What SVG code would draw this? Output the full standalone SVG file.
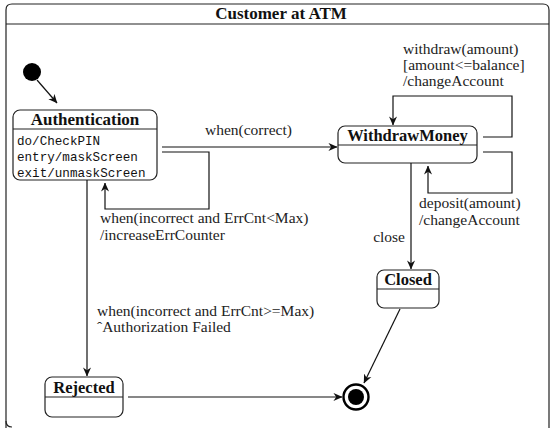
<svg xmlns="http://www.w3.org/2000/svg" width="550" height="428" viewBox="0 0 550 428">
<defs>
<style>
.box{fill:#fff;stroke:#222;stroke-width:1.2}
.sep{stroke:#222;stroke-width:1.2}
.ttl{font-family:'Liberation Serif','Times New Roman','DejaVu Serif',serif;font-weight:bold;font-size:16.5px;fill:#111;text-anchor:middle}
.mono{font-family:'Liberation Mono','DejaVu Sans Mono',monospace;font-size:12.6px;fill:#111}
.lbl{font-family:'Liberation Serif','Times New Roman','DejaVu Serif',serif;font-size:15.5px;fill:#222}
.edge{fill:none;stroke:#111;stroke-width:1.2;marker-end:url(#arr)}
</style>
<marker id="arr" viewBox="0 0 10 10" refX="9.5" refY="5" markerWidth="9" markerHeight="9" markerUnits="userSpaceOnUse" orient="auto">
<path d="M0,0.5 L10,5 L0,9.5 L3,5 Z" fill="#111"/>
</marker>
</defs>
<rect width="550" height="428" fill="#fff"/>
<g id="frame">
<path d="M6,434 L6,10 Q6,4 12,4 L543,4 Q549,4 549,10 L549,434" fill="none" stroke="#222" stroke-width="1.2"/>
<path d="M6,421 Q6,427 12,427" fill="none" stroke="#222" stroke-width="1.2"/>
<line x1="6" y1="24" x2="549" y2="24" class="sep"/>
<text x="281" y="18.5" class="ttl" style="font-size:17px">Customer at ATM</text>
</g>
<g id="initial">
<circle cx="32" cy="72" r="9" fill="#000"/>
</g>
<g id="authentication">
<rect x="13" y="110" width="144" height="70" rx="7" class="box"/>
<line x1="13" y1="129" x2="157" y2="129" class="sep"/>
<text x="85" y="125" class="ttl" style="font-size:17px">Authentication</text>
<text x="17" y="145" class="mono">do/CheckPIN</text>
<text x="17" y="161" class="mono">entry/maskScreen</text>
<text x="17" y="177" class="mono">exit/unmaskScreen</text>
</g>
<g id="withdrawmoney">
<rect x="338" y="126" width="139" height="37" rx="7" class="box"/>
<line x1="338" y1="145" x2="477" y2="145" class="sep"/>
<text x="407.5" y="141" class="ttl">WithdrawMoney</text>
</g>
<g id="closed">
<rect x="377" y="270" width="62" height="38" rx="7" class="box"/>
<line x1="377" y1="289" x2="439" y2="289" class="sep"/>
<text x="408" y="285" class="ttl">Closed</text>
</g>
<g id="rejected">
<rect x="45" y="377" width="78" height="40" rx="7" class="box"/>
<line x1="45" y1="397" x2="123" y2="397" class="sep"/>
<text x="84" y="393" class="ttl">Rejected</text>
</g>
<g id="final">
<circle cx="356" cy="397" r="12.5" fill="#fff" stroke="#000" stroke-width="2.4"/>
<circle cx="356" cy="397" r="8" fill="#000"/>
</g>
<g id="connectors">
<line x1="37" y1="80" x2="57" y2="103" class="edge"/>
<line x1="162" y1="147" x2="337" y2="147" class="edge"/>
<text x="205" y="135" class="lbl">when(correct)</text>
<polyline points="162,152 209,152 209,209 105,209 105,183" class="edge"/>
<text x="100" y="223" class="lbl">when(incorrect and ErrCnt&lt;Max)</text>
<text x="100" y="240" class="lbl">/increaseErrCounter</text>
<line x1="87" y1="180" x2="87" y2="376" class="edge"/>
<text x="97" y="316" class="lbl">when(incorrect and ErrCnt&gt;=Max)</text>
<text x="97" y="332" class="lbl">ˆAuthorization Failed</text>
<polyline points="483,137 512,137 512,96 393,96 393,125" class="edge"/>
<text x="403" y="54" class="lbl">withdraw(amount)</text>
<text x="403" y="70" class="lbl">[amount&lt;=balance]</text>
<text x="403" y="86" class="lbl">/changeAccount</text>
<polyline points="483,152 512,152 512,193 428,193 428,166" class="edge"/>
<text x="419" y="208" class="lbl">deposit(amount)</text>
<text x="419" y="225" class="lbl">/changeAccount</text>
<line x1="411" y1="163" x2="411" y2="269" class="edge"/>
<text x="405" y="242" class="lbl" text-anchor="end">close</text>
<line x1="400" y1="309" x2="364" y2="383" class="edge"/>
<line x1="128" y1="397" x2="342" y2="397" class="edge"/>
</g>
</svg>
